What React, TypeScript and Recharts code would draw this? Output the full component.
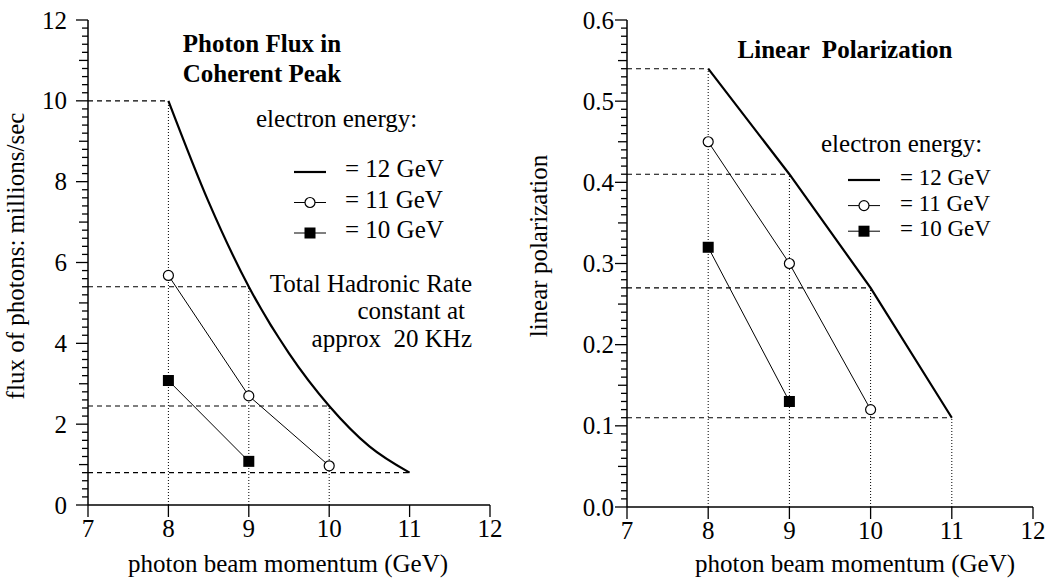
import React from 'react';
import { ComposedChart, Line, XAxis, YAxis, ReferenceLine } from 'recharts';

const FONT = '"Liberation Serif", "Times New Roman", Times, serif';
const FS = 25;

// ---- shared x axis: photon beam momentum (GeV)
const momentumTicks = [7, 8, 9, 10, 11, 12];

// ---- left panel: photon flux in coherent peak (millions/sec)
const fluxTicks = [0, 2, 4, 6, 8, 10, 12];
const fluxMomentum12 = [8, 8.5, 9, 9.5, 10, 10.5, 11];
const flux12 = [10, 7.5, 5.4, 3.75, 2.45, 1.45, 0.8];
const fluxMomentum11 = [8, 9, 10];
const flux11 = [5.68, 2.7, 0.97];
const fluxMomentum10 = [8, 9];
const flux10 = [3.08, 1.08];
const fluxDropMomenta = [8, 9, 10];

// ---- right panel: linear polarization
const polTicks = [0, 0.1, 0.2, 0.3, 0.4, 0.5, 0.6];
const polMomentum12 = [8, 9, 10, 11];
const pol12 = [0.54, 0.41, 0.27, 0.11];
const polMomentum11 = [8, 9, 10];
const pol11 = [0.45, 0.3, 0.12];
const polMomentum10 = [8, 9];
const pol10 = [0.32, 0.13];
const polDropMomenta = [8, 9, 10, 11];

// ---- legend labels
const legendLabels = ['= 12 GeV', '= 11 GeV', '= 10 GeV'];

const toPoints = (xs: number[], ys: number[]) => xs.map((x, i) => ({ x, y: ys[i] }));

const fluxMinorTicks = Array.from({ length: 61 }, (_, i) => i * 0.2);
const polMinorTicks = Array.from({ length: 61 }, (_, i) => i * 0.01);

function makeYTick(step: number, major: number[], side: 'left' | 'right', gap: number, fmt: (v: number) => string) {
  return (props: any) => {
    const { x, y, payload } = props;
    const k = Math.round(payload.value / step);
    const isMajor = major.some((m) => Math.abs(m - payload.value) < step / 2);
    const isMid = !isMajor && k % 5 === 0;
    const len = isMajor ? 12 : isMid ? 9 : 6;
    const dir = side === 'left' ? -1 : 1;
    return (
      <g>
        <line x1={x} y1={y} x2={x + dir * len} y2={y} stroke="#000" strokeWidth={1.3} />
        {side === 'left' && isMajor && (
          <text x={x - len - gap} y={y} dy="0.34em" textAnchor="end" fontSize={FS} fontFamily={FONT} fill="#000">
            {fmt(payload.value)}
          </text>
        )}
      </g>
    );
  };
}

const square = (p: any) => (
  <rect key={`sq-${p.index}-${p.cx}`} x={p.cx - 5.5} y={p.cy - 5.5} width={11} height={11} fill="#000" />
);

const circleDot = { r: 5, fill: '#fff', stroke: '#000', strokeWidth: 1.2 };

interface PanelProps {
  yDomain: [number, number];
  yTicks: number[];
  minorTicks: number[];
  step: number;
  labelGap: number;
  fmt: (v: number) => string;
  m12: number[]; v12: number[]; curve12: 'monotone' | 'linear';
  m11: number[]; v11: number[];
  m10: number[]; v10: number[];
  dropMomenta: number[];
  margin: { top: number; right: number; bottom: number; left: number };
}

function Panel(p: PanelProps) {
  const s12 = toPoints(p.m12, p.v12);
  const guides = s12.filter((pt) => Number.isInteger(pt.x));
  const axisLine = { stroke: '#000', strokeWidth: 1.5 };
  return (
    <ComposedChart width={530} height={581} margin={p.margin}>
      <XAxis
        xAxisId="b"
        dataKey="x"
        type="number"
        domain={[7, 12]}
        ticks={momentumTicks}
        interval={0}
        allowDataOverflow
        tickSize={12}
        height={40}
        axisLine={axisLine}
        tickLine={{ stroke: '#000', strokeWidth: 1.3 }}
        tick={{ fontSize: FS, fill: '#000', fontFamily: FONT }}
      />
      <XAxis
        xAxisId="t"
        orientation="top"
        dataKey="x"
        type="number"
        domain={[7, 12]}
        ticks={momentumTicks}
        interval={0}
        allowDataOverflow
        tickSize={12}
        height={0}
        axisLine={axisLine}
        tickLine={{ stroke: '#000', strokeWidth: 1.3 }}
        tick={false}
      />
      <YAxis
        yAxisId="l"
        type="number"
        domain={p.yDomain}
        ticks={p.minorTicks}
        interval={0}
        allowDataOverflow
        width={60}
        tickSize={0}
        tickMargin={0}
        tickLine={false}
        axisLine={axisLine}
        tick={makeYTick(p.step, p.yTicks, 'left', p.labelGap, p.fmt)}
      />
      <YAxis
        yAxisId="r"
        orientation="right"
        type="number"
        domain={p.yDomain}
        ticks={p.minorTicks}
        interval={0}
        allowDataOverflow
        width={0}
        tickSize={0}
        tickMargin={0}
        tickLine={false}
        axisLine={axisLine}
        tick={makeYTick(p.step, p.yTicks, 'right', 0, p.fmt)}
      />
      {guides.map((g) => (
        <ReferenceLine
          key={`h${g.x}`}
          xAxisId="b"
          yAxisId="l"
          segment={[{ x: 7, y: g.y }, { x: g.x, y: g.y }]}
          stroke="#000"
          strokeWidth={1.1}
          strokeDasharray="5 4"
        />
      ))}
      {guides
        .filter((g) => p.dropMomenta.includes(g.x))
        .map((g) => (
          <ReferenceLine
            key={`v${g.x}`}
            xAxisId="b"
            yAxisId="l"
            segment={[{ x: g.x, y: p.yDomain[0] }, { x: g.x, y: g.y }]}
            stroke="#000"
            strokeWidth={1}
            strokeDasharray="1 2"
          />
        ))}
      <Line
        xAxisId="b"
        yAxisId="l"
        data={s12}
        dataKey="y"
        type={p.curve12}
        stroke="#000"
        strokeWidth={2.2}
        dot={false}
        isAnimationActive={false}
      />
      <Line
        xAxisId="b"
        yAxisId="l"
        data={toPoints(p.m11, p.v11)}
        dataKey="y"
        type="linear"
        stroke="#000"
        strokeWidth={1}
        dot={circleDot}
        isAnimationActive={false}
      />
      <Line
        xAxisId="b"
        yAxisId="l"
        data={toPoints(p.m10, p.v10)}
        dataKey="y"
        type="linear"
        stroke="#000"
        strokeWidth={1}
        dot={square}
        isAnimationActive={false}
      />
    </ComposedChart>
  );
}

const T = (props: any) => (
  <text fontFamily={FONT} fontSize={FS} fill="#000" xmlSpace="preserve" style={{ whiteSpace: 'pre' }} {...props} />
);

function LegendRows({ x, textX, textY0, lineGap, fontSize }: { x: number; textX: number; textY0: number; lineGap: number; fontSize: number }) {
  const ys = legendLabels.map((_, i) => textY0 + i * lineGap - 5);
  return (
    <g>
      <line x1={x - 16} x2={x + 16} y1={ys[0]} y2={ys[0]} stroke="#000" strokeWidth={2.2} />
      <line x1={x - 16} x2={x + 16} y1={ys[1]} y2={ys[1]} stroke="#000" strokeWidth={1} />
      <circle cx={x} cy={ys[1]} r={5} fill="#fff" stroke="#000" strokeWidth={1.2} />
      <line x1={x - 16} x2={x + 16} y1={ys[2]} y2={ys[2]} stroke="#000" strokeWidth={1} />
      <rect x={x - 5.5} y={ys[2] - 5.5} width={11} height={11} fill="#000" />
      {legendLabels.map((label, i) => (
        <T key={label} x={textX} y={textY0 + i * lineGap} fontSize={fontSize}>
          {label}
        </T>
      ))}
    </g>
  );
}

export default function App() {
  return (
    <div style={{ position: 'absolute', left: 0, top: 0, width: 1060, height: 581, background: '#fff', fontFamily: FONT }}>
      <div style={{ position: 'absolute', left: 0, top: 0 }}>
        <Panel
          yDomain={[0, 12]}
          yTicks={fluxTicks}
          minorTicks={fluxMinorTicks}
          step={0.2}
          labelGap={9}
          fmt={(v) => String(Math.round(v))}
          m12={fluxMomentum12} v12={flux12} curve12="monotone"
          m11={fluxMomentum11} v11={flux11}
          m10={fluxMomentum10} v10={flux10}
          dropMomenta={fluxDropMomenta}
          margin={{ top: 20, right: 40, bottom: 36, left: 28 }}
        />
      </div>
      <div style={{ position: 'absolute', left: 530, top: 0 }}>
        <Panel
          yDomain={[0, 0.6]}
          yTicks={polTicks}
          minorTicks={polMinorTicks}
          step={0.01}
          labelGap={1}
          fmt={(v) => v.toFixed(1)}
          m12={polMomentum12} v12={pol12} curve12="linear"
          m11={polMomentum11} v11={pol11}
          m10={polMomentum10} v10={pol10}
          dropMomenta={polDropMomenta}
          margin={{ top: 20, right: 27, bottom: 34, left: 37 }}
        />
      </div>
      <svg width={1060} height={581} style={{ position: 'absolute', left: 0, top: 0, pointerEvents: 'none' }}>
        {/* left panel annotations */}
        <T x={262} y={52} textAnchor="middle" fontWeight="bold">Photon Flux in</T>
        <T x={262} y={82} textAnchor="middle" fontWeight="bold">Coherent Peak</T>
        <T x={256} y={127}>electron energy:</T>
        <LegendRows x={310} textX={345} textY0={177} lineGap={30.5} fontSize={25} />
        <T x={472} y={292} textAnchor="end">Total Hadronic Rate</T>
        <T x={465} y={319} textAnchor="end">constant at</T>
        <T x={472} y={347} textAnchor="end">approx  20 KHz</T>
        <T x={288} y={572} textAnchor="middle">photon beam momentum (GeV)</T>
        <T x={0} y={0} textAnchor="middle" transform="translate(24 256) rotate(-90)">flux of photons: millions/sec</T>
        {/* right panel annotations */}
        <T x={845} y={58} textAnchor="middle" fontWeight="bold">Linear  Polarization</T>
        <T x={821} y={152}>electron energy:</T>
        <LegendRows x={864} textX={900} textY0={185} lineGap={25.6} fontSize={23} />
        <T x={855} y={572} textAnchor="middle">photon beam momentum (GeV)</T>
        <T x={0} y={0} textAnchor="middle" transform="translate(547 246) rotate(-90)">linear polarization</T>
      </svg>
    </div>
  );
}
